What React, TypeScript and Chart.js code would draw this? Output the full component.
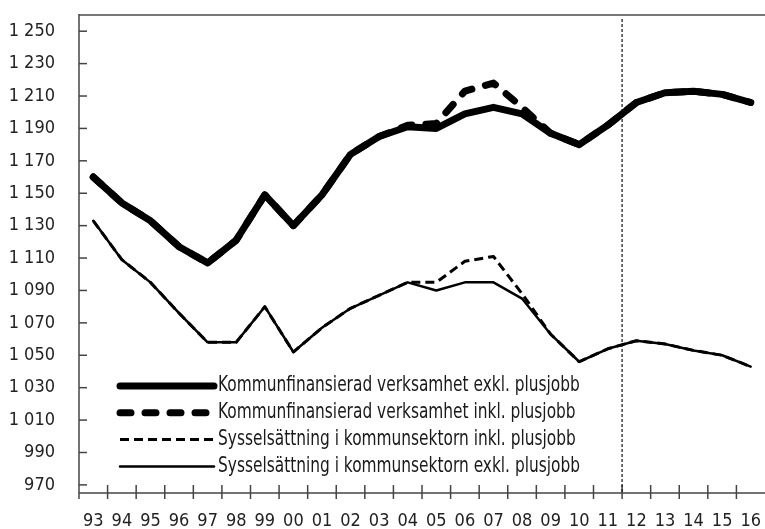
import { useEffect, useRef } from 'react';
import { Chart, registerables } from 'chart.js';

Chart.register(...registerables);

const categories = ['93', '94', '95', '96', '97', '98', '99', '00', '01', '02', '03', '04', '05', '06', '07', '08', '09', '10', '11', '12', '13', '14', '15', '16'];

const kommunExkl = [1160, 1144, 1133, 1117, 1107, 1121, 1149, 1130, 1149, 1174, 1185, 1191, 1190, 1199, 1203, 1199, 1187, 1180, 1192, 1206, 1212, 1213, 1211, 1206];
const kommunInkl = [1160, 1144, 1133, 1117, 1107, 1121, 1149, 1130, 1149, 1174, 1185, 1192, 1193, 1213, 1218, 1203, 1187, 1180, 1192, 1206, 1212, 1213, 1211, 1206];
const sysselInkl = [1133, 1109, 1095, 1076, 1058, 1058, 1080, 1052, 1067, 1079, 1087, 1095, 1095, 1108, 1111, 1088, 1063, 1046, 1054, 1059, 1057, 1053, 1050, 1043];
const sysselExkl = [1133, 1109, 1095, 1076, 1058, 1058, 1080, 1052, 1067, 1079, 1087, 1095, 1090, 1095, 1095, 1085, 1063, 1046, 1054, 1059, 1057, 1053, 1050, 1043];

const seriesLabels = [
  'Kommunfinansierad verksamhet exkl. plusjobb',
  'Kommunfinansierad verksamhet inkl. plusjobb',
  'Sysselsättning i kommunsektorn inkl. plusjobb',
  'Sysselsättning i kommunsektorn exkl. plusjobb',
];

const yTickValues = [970, 990, 1010, 1030, 1050, 1070, 1090, 1110, 1130, 1150, 1170, 1190, 1210, 1230, 1250];
const yMin = 965;
const yMax = 1260;
const forecastStartIndex = 19; // dashed line between '11' and '12'

const FONT = "'DejaVu Sans Condensed', 'Liberation Sans Narrow', 'Arial Narrow', sans-serif";

function fmtThousands(v: number): string {
  return String(v).replace(/\B(?=(\d{3})+(?!\d))/g, ' ');
}

const decorPlugin = {
  id: 'decor',
  afterDraw(chart: any) {
    const { ctx, chartArea: a, scales } = chart;
    const x = scales.x;
    const y = scales.y;
    const line = (x1: number, y1: number, x2: number, y2: number) => {
      ctx.beginPath();
      ctx.moveTo(x1, y1);
      ctx.lineTo(x2, y2);
      ctx.stroke();
    };
    ctx.save();
    // top frame
    ctx.strokeStyle = '#777';
    ctx.lineWidth = 2;
    line(a.left, a.top, a.right, a.top);
    // axes
    ctx.strokeStyle = '#444';
    ctx.lineWidth = 1.5;
    line(a.left, a.top - 1, a.left, a.bottom + 6);
    line(a.left, a.bottom, a.right, a.bottom);
    // y ticks (inward)
    for (const v of yTickValues) {
      const yy = y.getPixelForValue(v);
      line(a.left, yy, a.left + 8, yy);
    }
    // x ticks at category boundaries
    for (let i = 1; i < categories.length; i++) {
      const xx = (x.getPixelForValue(i - 1) + x.getPixelForValue(i)) / 2;
      line(xx, a.bottom - 8, xx, a.bottom + 6);
    }
    // forecast divider
    const xf = (x.getPixelForValue(forecastStartIndex - 1) + x.getPixelForValue(forecastStartIndex)) / 2;
    ctx.strokeStyle = '#111';
    ctx.lineWidth = 1.2;
    ctx.setLineDash([3, 2]);
    line(xf, a.top + 4, xf, a.bottom);
    ctx.setLineDash([]);

    // legend
    const ds = chart.data.datasets;
    const lx1 = a.left + 41;
    const lx2 = a.left + 135;
    const rowY0 = 386;
    const rowGap = 26.8;
    ctx.font = `21px ${FONT}`;
    ctx.textBaseline = 'middle';
    ctx.textAlign = 'left';
    ds.forEach((d: any, i: number) => {
      const yy = rowY0 + i * rowGap;
      ctx.strokeStyle = '#000';
      ctx.lineWidth = d.borderWidth;
      ctx.lineCap = d.borderCapStyle || 'butt';
      ctx.setLineDash(d.borderDash || []);
      line(lx1, yy, lx2, yy);
      ctx.setLineDash([]);
      ctx.lineCap = 'butt';
      ctx.fillStyle = '#1a1a1a';
      ctx.save();
      ctx.translate(lx2 + 4, yy);
      ctx.scale(0.815, 1);
      ctx.fillText(d.label, 0, 0);
      ctx.restore();
    });
    ctx.restore();
  },
};

export default function App() {
  const canvasRef = useRef<HTMLCanvasElement | null>(null);

  useEffect(() => {
    const canvas = canvasRef.current;
    if (!canvas) return;
    const chart = new Chart(canvas, {
      type: 'line',
      data: {
        labels: categories,
        datasets: [
          {
            label: seriesLabels[0],
            data: kommunExkl,
            borderColor: '#000',
            borderWidth: 7,
            borderCapStyle: 'round',
            borderJoinStyle: 'round',
            pointRadius: 0,
            tension: 0,
            order: 4,
          },
          {
            label: seriesLabels[1],
            data: kommunInkl,
            borderColor: '#000',
            borderWidth: 7,
            borderDash: [11, 14],
            borderCapStyle: 'round',
            borderJoinStyle: 'round',
            pointRadius: 0,
            tension: 0,
            order: 3,
          },
          {
            label: seriesLabels[2],
            data: sysselInkl,
            borderColor: '#000',
            borderWidth: 3,
            borderDash: [9, 5],
            borderCapStyle: 'butt',
            borderJoinStyle: 'round',
            pointRadius: 0,
            tension: 0,
            order: 2,
          },
          {
            label: seriesLabels[3],
            data: sysselExkl,
            borderColor: '#000',
            borderWidth: 2.5,
            borderCapStyle: 'round',
            borderJoinStyle: 'round',
            pointRadius: 0,
            tension: 0,
            order: 1,
          },
        ],
      },
      options: {
        responsive: false,
        animation: false,
        devicePixelRatio: 1,
        layout: { padding: { top: 15, left: 0, right: 0, bottom: 0 } },
        plugins: {
          legend: { display: false },
          tooltip: { enabled: false },
        },
        scales: {
          x: {
            type: 'category',
            offset: true,
            afterFit: (s: any) => {
              s.height = 36;
              s.paddingLeft = 0;
              s.paddingRight = 0;
            },
            grid: { display: false, drawTicks: false, offset: true },
            border: { display: false },
            ticks: {
              padding: 18,
              maxRotation: 0,
              autoSkip: false,
              color: '#222',
              font: { family: FONT, size: 18 },
            },
          },
          y: {
            type: 'linear',
            min: yMin,
            max: yMax,
            afterBuildTicks: (s: any) => {
              s.ticks = yTickValues.map((v) => ({ value: v }));
            },
            afterFit: (s: any) => {
              s.width = 79;
              s.paddingTop = 0;
              s.paddingBottom = 0;
            },
            grid: { display: false, drawTicks: false },
            border: { display: false },
            ticks: {
              padding: 24,
              color: '#222',
              font: { family: FONT, size: 18 },
              callback: (v: any) => fmtThousands(Number(v)),
            },
          },
        },
      },
      plugins: [decorPlugin],
    } as any);
    return () => chart.destroy();
  }, []);

  return (
    <div style={{ position: 'fixed', left: 0, top: 0, width: 765, height: 529, background: '#fff' }}>
      <canvas ref={canvasRef} width={765} height={529} style={{ display: 'block' }} />
    </div>
  );
}
